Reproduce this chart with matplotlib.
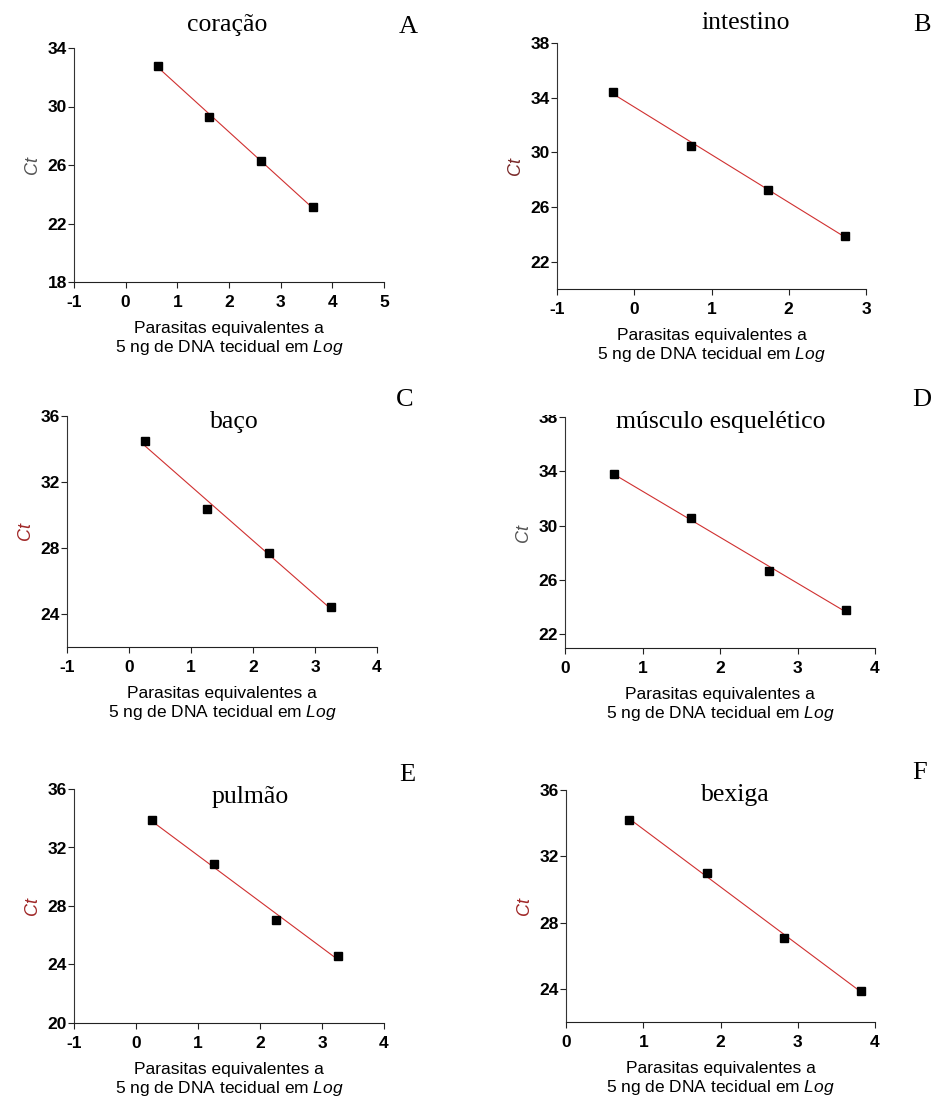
import numpy as np
import matplotlib
matplotlib.use("Agg")
import matplotlib.pyplot as plt
from matplotlib.patches import Rectangle

plt.rcParams['axes.unicode_minus'] = False
plt.rcParams['mathtext.fontset'] = 'custom'
plt.rcParams['mathtext.it'] = 'Liberation Sans:italic'
plt.rcParams['mathtext.rm'] = 'Liberation Sans'

# dados (log parasitas x Ct)
x_coracao = [0.62, 1.62, 2.62, 3.62]
ct_coracao = [32.8, 29.3, 26.3, 23.1]

x_intestino = [-0.27, 0.73, 1.73, 2.73]
ct_intestino = [34.45, 30.5, 27.25, 23.9]

x_baco = [0.26, 1.26, 2.26, 3.26]
ct_baco = [34.5, 30.35, 27.7, 24.4]

x_musculo = [0.63, 1.63, 2.63, 3.63]
ct_musculo = [33.8, 30.55, 26.7, 23.8]

x_pulmao = [0.25, 1.25, 2.25, 3.25]
ct_pulmao = [33.85, 30.85, 27.05, 24.6]

x_bexiga = [0.82, 1.82, 2.82, 3.82]
ct_bexiga = [34.2, 31.0, 27.05, 23.9]

titulos = ['coração', 'intestino', 'baço', 'músculo esquelético', 'pulmão', 'bexiga']
letras = ['A', 'B', 'C', 'D', 'E', 'F']
xlims = [(-1, 5), (-1, 3), (-1, 4), (0, 4), (-1, 4), (0, 4)]
ylims = [(18, 34), (20, 38), (22, 36), (21, 38), (20, 36), (22, 36)]
yticks = [[18, 22, 26, 30, 34], [22, 26, 30, 34, 38], [24, 28, 32, 36],
          [22, 26, 30, 34, 38], [20, 24, 28, 32, 36], [24, 28, 32, 36]]
xs = [x_coracao, x_intestino, x_baco, x_musculo, x_pulmao, x_bexiga]
cts = [ct_coracao, ct_intestino, ct_baco, ct_musculo, ct_pulmao, ct_bexiga]

W, H = 935, 1118
fig = plt.figure(figsize=(W / 100, H / 100), dpi=100)

# caixas dos eixos em pixels (esq, topo, dir, base)
caixas = [(74, 48, 384, 282), (557, 43, 866, 289),
          (67, 416, 377, 647), (565, 417, 875, 648),
          (74, 789, 384, 1023), (566, 790, 875, 1022)]
pos_titulo = [(227, 25), (746, 23), (234, 422), (721, 422), (250, 797), (735, 795)]
pos_letra = [(408, 27), (922, 25), (405, 400), (922, 400), (407, 775), (920, 773)]
cor_ct = ['#555555', '#7a2a2a', '#a02828', '#555555', '#a02828', '#a02828']

sans = 'Liberation Sans'

for i in range(6):
    l, t, r, b = caixas[i]
    ax = fig.add_axes([l / W, 1 - b / H, (r - l) / W, (b - t) / H])
    x = np.array(xs[i])
    y = np.array(cts[i])
    a, c = np.polyfit(x, y, 1)
    xx = np.array([x[0], x[-1]])
    ax.plot(xx, a * xx + c, color='#d03030', lw=0.8, zorder=2)
    ax.plot(x, y, 's', color='black', ms=6, zorder=3)
    ax.set_xlim(xlims[i])
    ax.set_ylim(ylims[i])
    ax.set_xticks(range(xlims[i][0], xlims[i][1] + 1))
    ax.set_yticks(yticks[i])
    ax.spines['top'].set_visible(False)
    ax.spines['right'].set_visible(False)
    ax.spines['left'].set_color('#333333')
    ax.spines['bottom'].set_color('#222222')
    ax.tick_params(direction='out', length=4.5, width=0.8, colors='#222222')
    ax.tick_params(axis='y', pad=0.5)
    ax.tick_params(axis='x', pad=5)
    for lab in ax.get_xticklabels() + ax.get_yticklabels():
        lab.set_family(sans)
        lab.set_fontweight('bold')
        lab.set_fontsize(12.5)
        lab.set_color('black')
    ax.set_ylabel('Ct', family=sans, style='italic', fontsize=13,
                  color=cor_ct[i], labelpad=5)
    ax.set_xlabel('Parasitas equivalentes a\n5 ng de DNA tecidual em $\\mathit{Log}$',
                  family=sans, fontsize=12.5, linespacing=1.15, labelpad=8)
    ax.patch.set_alpha(0)

    tx, ty = pos_titulo[i]
    fig.text(tx / W, 1 - ty / H, titulos[i], family='Liberation Serif',
             fontsize=18.5, ha='center', va='center', zorder=10)
    lx, ly = pos_letra[i]
    fig.text(lx / W, 1 - ly / H, letras[i], family='Liberation Serif',
             fontsize=19, ha='center', va='center', zorder=10)

# faixa branca que corta o "38" do painel D como no original
fig.patches.append(Rectangle((490 / W, 1 - 415 / H), 405 / W, 35 / H,
                             transform=fig.transFigure, facecolor='white',
                             edgecolor='none', zorder=5))

fig.savefig('out.png', dpi=100)
